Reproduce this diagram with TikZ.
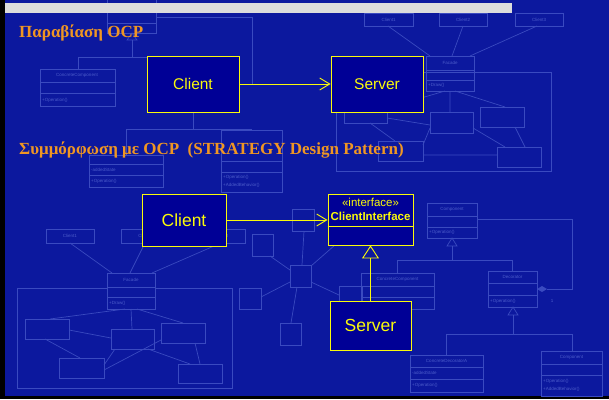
\documentclass[tikz,border=0pt]{standalone}
\usepackage{fontspec}
\setmainfont{Liberation Serif}
\setsansfont{Liberation Sans}
\usetikzlibrary{arrows.meta}
\definecolor{bgblue}{RGB}{12,24,158}
\definecolor{faint}{RGB}{58,74,192}
\definecolor{fainttext}{RGB}{76,92,202}
\definecolor{boxblue}{RGB}{0,0,150}
\definecolor{uyellow}{RGB}{250,250,10}
\definecolor{torange}{RGB}{240,150,35}
\definecolor{barGray}{RGB}{220,220,220}
\newcommand\fcls[6]{\draw[fl] (#1,#2) rectangle (#3,#4); \draw[fl] (#1,#5) -- (#3,#5); \draw[fl] (#1,#6) -- (#3,#6);}
\newcommand\fbx[4]{\draw[fl] (#1,#2) rectangle (#3,#4);}
\begin{document}
\begin{tikzpicture}[x=1pt,y=-1pt,
  fl/.style={draw=faint, line width=0.7pt},
  ft/.style={text=fainttext, font=\sffamily\fontsize{4.5}{5}\selectfont, inner sep=0pt},
  mainbox/.style={draw=uyellow, fill=boxblue, line width=0.9pt, text=uyellow, inner sep=0pt},
  ttl/.style={text=torange, font=\bfseries\fontsize{17}{20}\selectfont, anchor=west, inner sep=0pt},
  link/.style={draw=uyellow, line width=0.9pt}]
\useasboundingbox (0,0) rectangle (609,399);
\fill[black] (0,0) rectangle (609,399);
\fill[bgblue] (5,0) rectangle (609,396);
\begin{scope}
\clip (5,0) rectangle (609,396);
% ---- faint background: top-left decorator
\fcls{107}{-5}{156}{33}{10}{23}
\draw[fl] (156,17) -- (252,17) -- (252,85);
\draw[fl] (132,33) -- (127,40) -- (137,40) -- cycle;
\draw[fl] (132,40) -- (132,57) (78,57) -- (147,57) (78,57) -- (78,69);
\fcls{40}{69}{115}{106}{82}{93}
\node[ft] (fa1) at (77,75.5) {ConcreteComponent};
\node[ft, anchor=west] (fa2) at (42,100) {+Operation()};
\draw[fl] (193,112) -- (193,129) (126,129) -- (252,129) (126,129) -- (126,155);
\fcls{89}{155}{163}{187}{164}{175}
\node[ft, anchor=west] (fa3) at (91,169.5) {-addedState};
\node[ft, anchor=west] (fa4) at (91,181) {+Operation()};
\fcls{221}{130}{282}{192}{161}{172}
\node[ft, anchor=west] (fa5) at (223,177) {+Operation()};
\node[ft, anchor=west] (fa6) at (223,185) {+AddedBehavior()};
% ---- faint: top-right facade
\fbx{364}{13}{413}{26} \node[ft] (fb1) at (388.5,19.5) {Client1};
\fbx{439}{13}{487}{26} \node[ft] (fb2) at (463,19.5) {Client2};
\fbx{515}{13}{563}{26} \node[ft] (fb3) at (539,19.5) {Client3};
\draw[fl] (388,26) -- (430,56) (463,26) -- (452,56) (537,26) -- (470,56);
\fcls{426}{56}{474}{91}{70}{80}
\node[ft] (fb4) at (450,63) {Facade};
\node[ft, anchor=west] (fb5) at (428,85.5) {+Draw()};
\draw[fl] (336,72) rectangle (551,171);
\fbx{344}{110}{387}{123}
\fbx{430}{112}{473}{133}
\fbx{480}{107}{524}{127}
\fbx{378}{141}{423}{161}
\fbx{497}{147}{541}{167}
\draw[fl] (445,91) -- (380,110) (450,91) -- (450,112) (455,91) -- (505,107);
\draw[fl] (370,123) -- (395,141) (430,128) -- (423,145) (387,118) -- (430,125);
\draw[fl] (473,128) -- (505,147) (515,127) -- (525,147) (423,155) -- (497,155);
% ---- faint: bottom-left facade
\fbx{46}{229}{94}{243} \node[ft] (fc1) at (70,236) {Client1};
\fbx{121}{229}{170}{243} \node[ft] (fc2) at (145.5,236) {Client2};
\fbx{197}{229}{245}{243} \node[ft] (fc3) at (221,236) {Client3};
\draw[fl] (70,243) -- (112,273) (145,243) -- (130,273) (221,243) -- (152,273);
\fcls{107}{273}{155}{309}{287}{297}
\node[ft] (fc4) at (131,280) {Facade};
\node[ft, anchor=west] (fc5) at (109,303) {+Draw()};
\draw[fl] (107,288) -- (17,288) -- (17,388) -- (232,388) -- (232,288) -- (155,288);
\fbx{25}{319}{69}{339}
\fbx{111}{329}{154}{349}
\fbx{161}{323}{205}{343}
\fbx{59}{358}{104}{378}
\fbx{178}{364}{222}{383}
\draw[fl] (125,309) -- (50,319) (131,309) -- (132,329) (137,309) -- (183,323);
\draw[fl] (69,330) -- (111,338) (45,339) -- (80,358) (115,349) -- (104,365);
\draw[fl] (161,340) -- (104,370) (148,349) -- (190,364) (195,343) -- (200,364);
% ---- faint: middle star
\fbx{290}{265}{311}{287}
\fbx{292}{209}{314}{231}
\fbx{252}{234}{273}{256}
\fbx{239}{288}{261}{309}
\fbx{280}{323}{301}{345}
\fbx{339}{286}{362}{310}
\draw[fl] (302,265) -- (304,231) (290,270) -- (270,256) (290,282) -- (261,297);
\draw[fl] (297,287) -- (291,323) (311,266) -- (335,245) (311,282) -- (339,295);
% ---- faint: right decorator
\fcls{427}{203}{477}{238}{216}{227}
\node[ft] (fd1) at (452,209.5) {Component};
\node[ft, anchor=west] (fd2) at (429,232.5) {+Operation()};
\draw[fl] (452,238) -- (447,246) -- (457,246) -- cycle;
\draw[fl] (452,246) -- (452,260) (397,260) -- (512,260) (397,260) -- (397,273) (512,260) -- (512,271);
\fcls{361}{273}{434}{309}{286}{297}
\node[ft] (fd3) at (397.5,279.5) {ConcreteComponent};
\fcls{488}{271}{537}{307}{283}{295}
\node[ft] (fd4) at (512.5,277) {Decorator};
\node[ft, anchor=west] (fd5) at (490,301) {+Operation()};
\draw[fl] (477,219) -- (572,219) -- (572,289) -- (547,289);
\fill[faint] (537,289) -- (542,286) -- (547,289) -- (542,292) -- cycle;
\node[ft] (fd6) at (552,301) {1};
\draw[fl] (513,307) -- (508,315) -- (518,315) -- cycle;
\draw[fl] (513,315) -- (513,334) (446,334) -- (572,334) (446,334) -- (446,355) (572,334) -- (572,351);
\fcls{410}{355}{483}{392}{367}{379}
\node[ft] (fd7) at (446.5,361) {ConcreteDecoratorA};
\node[ft, anchor=west] (fd8) at (412,373) {-addedState};
\node[ft, anchor=west] (fd9) at (412,385.5) {+Operation()};
\fcls{541}{351}{602}{396}{364}{375}
\node[ft] (fd10) at (571.5,357.5) {Component};
\node[ft, anchor=west] (fd11) at (543,381) {+Operation()};
\node[ft, anchor=west] (fd12) at (543,389) {+AddedBehavior()};
\end{scope}
\fill[barGray] (5,3) rectangle (512,13);
% ---- titles
\node[ttl] (t1) at (19,33) {Παραβίαση OCP};
\node[ttl] (t2) at (19,150) {Συμμόρφωση με OCP\ \ (STRATEGY Design Pattern)};
% ---- violation
\node[mainbox, minimum width=92, minimum height=56, font=\sffamily\fontsize{15.5}{18}\selectfont] (cl1) at (193,84) {Client};
\node[mainbox, minimum width=92, minimum height=56, font=\sffamily\fontsize{15.5}{18}\selectfont] (sv1) at (377,84) {Server};
\draw[link, -{Straight Barb[length=10pt,width=12pt]}] (cl1) -- (sv1);
% ---- compliance
\node[mainbox, minimum width=84, minimum height=52, font=\sffamily\fontsize{17.5}{20}\selectfont] (cl2) at (184,220) {Client};
\node[mainbox, minimum width=85, minimum height=51] (ci) at (370.5,219.5) {};
\draw[link] ([yshift=-33pt]ci.north west) -- ([yshift=-33pt]ci.north east);
\node[text=uyellow, font=\sffamily\fontsize{11.5}{12}\selectfont, inner sep=0pt] (st) at ([yshift=-8.5pt]ci.north) {«interface»};
\node[text=uyellow, font=\sffamily\bfseries\fontsize{11.5}{12}\selectfont, inner sep=0pt] (cin) at ([yshift=-23pt]ci.north) {ClientInterface};
\node[mainbox, minimum width=81, minimum height=49, font=\sffamily\fontsize{17.5}{20}\selectfont] (sv2) at (370.5,325.5) {Server};
\draw[link, -{Straight Barb[length=10pt,width=12pt]}] (cl2.east) -- (cl2.east -| ci.west);
\draw[link, -{Triangle[open, length=13pt, width=17pt]}] (sv2) -- (ci);
\end{tikzpicture}
\end{document}
